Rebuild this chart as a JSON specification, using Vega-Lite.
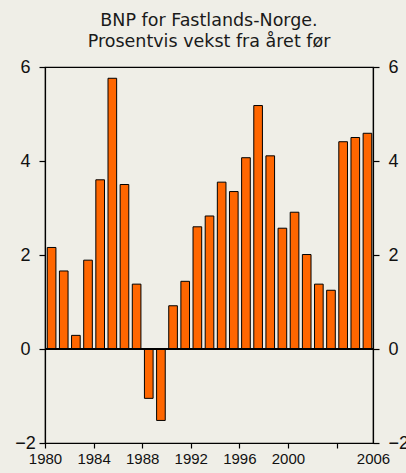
{
  "$schema": "https://vega.github.io/schema/vega-lite/v6.json",
  "autosize": "none",
  "width": 328,
  "height": 376,
  "padding": {"left": 45, "top": 67, "right": 33, "bottom": 30},
  "background": "#EFEEE7",
  "config": {
    "view": {"stroke": "#000000", "strokeWidth": 1.2},
    "axis": {"grid": false, "domainColor": "#000000", "tickColor": "#000000", "labelColor": "#111111", "labelFont": "Liberation Sans", "domainWidth": 1.2, "tickWidth": 1.2}
  },
  "title": {
    "text": ["BNP for Fastlands-Norge.", " Prosentvis vekst fra året før"],
    "font": "DejaVu Sans",
    "fontSize": 17.5,
    "fontWeight": "normal",
    "color": "#1a1a1a",
    "lineHeight": 21,
    "anchor": "middle",
    "frame": "group",
    "offset": 8
  },
  "data": {
    "values": [
      {"year": "1980", "vekst": 2.16},
      {"year": "1981", "vekst": 1.66},
      {"year": "1982", "vekst": 0.29},
      {"year": "1983", "vekst": 1.89},
      {"year": "1984", "vekst": 3.6},
      {"year": "1985", "vekst": 5.76},
      {"year": "1986", "vekst": 3.5},
      {"year": "1987", "vekst": 1.38},
      {"year": "1988", "vekst": -1.05},
      {"year": "1989", "vekst": -1.52},
      {"year": "1990", "vekst": 0.92},
      {"year": "1991", "vekst": 1.44},
      {"year": "1992", "vekst": 2.6},
      {"year": "1993", "vekst": 2.83},
      {"year": "1994", "vekst": 3.55},
      {"year": "1995", "vekst": 3.35},
      {"year": "1996", "vekst": 4.07},
      {"year": "1997", "vekst": 5.18},
      {"year": "1998", "vekst": 4.11},
      {"year": "1999", "vekst": 2.57},
      {"year": "2000", "vekst": 2.91},
      {"year": "2001", "vekst": 2.01},
      {"year": "2002", "vekst": 1.38},
      {"year": "2003", "vekst": 1.25},
      {"year": "2004", "vekst": 4.41},
      {"year": "2005", "vekst": 4.5},
      {"year": "2006", "vekst": 4.59}
    ]
  },
  "layer": [
    {
      "mark": {"type": "bar", "color": "#FF6600", "stroke": "#000000", "strokeWidth": 1, "binSpacing": 3.5},
      "encoding": {
        "x": {
          "field": "year",
          "timeUnit": "utcyear",
          "type": "temporal",
          "scale": {"type": "utc", "domain": [{"year": 1980, "utc": true}, {"year": 2007, "utc": true}], "nice": false},
          "axis": {
            "title": null,
            "values": [
              {"year": 1980, "utc": true}, {"year": 1984, "utc": true}, {"year": 1988, "utc": true},
              {"year": 1992, "utc": true}, {"year": 1996, "utc": true}, {"year": 2000, "utc": true},
              {"year": 2004, "utc": true}, {"year": 2007, "utc": true}
            ],
            "labelExpr": "utcyear(datum.value) == 2004 ? '' : (utcyear(datum.value) == 2007 ? '2006' : '' + utcyear(datum.value))",
            "tickOpacity": {"condition": {"test": "utcyear(datum.value) == 2007", "value": 0}, "value": 1},
            "labelFlush": false,
            "labelOverlap": false,
            "tickSize": 5,
            "labelPadding": 3,
            "labelFontSize": 15,
            "labelAngle": 0
          }
        },
        "y": {
          "field": "vekst",
          "type": "quantitative",
          "scale": {"domain": [-2, 6], "nice": false, "zero": false},
          "axis": {
            "title": null,
            "orient": "left",
            "values": [-2, 0, 2, 4, 6],
            "tickSize": 6,
            "labelAlign": "center",
            "labelPadding": 14,
            "labelFontSize": 18,
            "labelFlush": false
          }
        }
      }
    },
    {
      "mark": {"type": "rule", "color": "#000000", "strokeWidth": 1},
      "encoding": {
        "y": {
          "datum": 0,
          "type": "quantitative",
          "axis": {
            "title": null,
            "orient": "right",
            "values": [-2, 0, 2, 4, 6],
            "tickSize": 6,
            "labelAlign": "left",
            "labelPadding": 9,
            "labelFontSize": 18,
            "labelFlush": false
          }
        }
      }
    }
  ],
  "resolve": {"axis": {"y": "independent"}}
}
